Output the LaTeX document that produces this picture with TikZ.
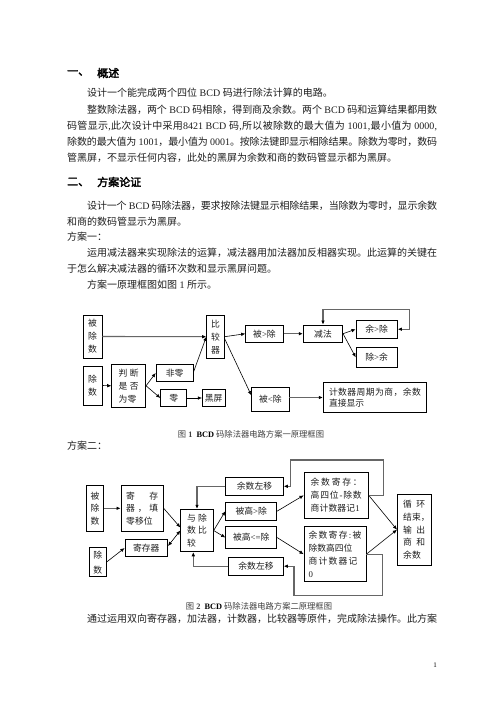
\documentclass[tikz,border=0pt]{standalone}
\usepackage{fontspec}
\setmainfont{Liberation Serif}
\newfontfamily\cjk{Noto Sans CJK SC}
\newfontfamily\cjkh[AutoFakeBold=2.5]{Noto Sans CJK SC}
\newfontfamily\lat{Liberation Serif}
\usetikzlibrary{arrows.meta}
\ExplSyntaxOn
\NewDocumentCommand\jline{m m}
  {\leavevmode\hbox~to~#1~{\tl_map_inline:nn {#2} {{##1}\hskip~0pt~plus~1fil~minus~1pt\relax}\unskip}}
\ExplSyntaxOff
\tikzset{
  txt/.style={inner sep=0pt, anchor=west, text=black!88, font=\cjk\fontsize{10}{12}\selectfont},
  hd/.style={inner sep=0pt, anchor=west, font=\cjkh\bfseries\fontsize{11}{13}\selectfont},
  figcap/.style={inner sep=0pt, text=black!75, font=\cjk\fontsize{8.3}{10}\selectfont},
  bx/.style={draw, line width=0.7pt, inner sep=0pt, text=black!88, font=\cjk\fontsize{8.8}{13}\selectfont, align=center},
  tip/.style={-{Latex[length=4.2pt,width=3.6pt,color=black]}},
  ar/.style={tip, line width=0.6pt},
  arg/.style={tip, draw=black!60, line width=1.1pt},
}
\begin{document}
\begin{tikzpicture}[x=1pt,y=-1pt]
\fill[white] (0,0) rectangle (496,702);
\useasboundingbox (0,0) rectangle (496,702);
% ---------------- body text ----------------
\node[hd] (h1a) at (67,73) {一、};
\node[hd] (h1b) at (97,73) {概述};
\node[txt] (t3) at (87,93) {设计一个能完成两个四位{\lat\ BCD\ }码进行除法计算的电路。};
\node[txt] (t4) at (87,110) {\jline{350pt}{整数除法器，两个{\lat\ BCD\ }码相除，得到商及余数。两个{\lat\ BCD\ }码和运算结果都用数}};
\node[txt] (t5) at (67,126) {\jline{370pt}{码管显示{\lat ,}此次设计中采用{\lat 8421\ BCD\ }码{\lat ,}所以被除数的最大值为{\lat\ 1001}{\lat ,}最小值为{\lat\ 0000}{\lat ,}}};
\node[txt] (t6) at (67,142) {\jline{370pt}{除数的最大值为{\lat\ 1001}，最小值为{\lat\ 0001}。按除法键即显示相除结果。除数为零时，数码}};
\node[txt] (t7) at (67,158) {管黑屏，不显示任何内容，此处的黑屏为余数和商的数码管显示都为黑屏。};
\node[hd] (h2a) at (67,182) {二、};
\node[hd] (h2b) at (97,182) {方案论证};
\node[txt] (t10) at (87,206) {\jline{350pt}{设计一个{\lat\ BCD\ }码除法器，要求按除法键显示相除结果，当除数为零时，显示余数}};
\node[txt] (t11) at (67,222) {和商的数码管显示为黑屏。};
\node[txt] (t12) at (67,237) {方案一：};
\node[txt] (t13) at (87,253) {\jline{350pt}{运用减法器来实现除法的运算，减法器用加法器加反相器实现。此运算的关键在}};
\node[txt] (t14) at (67,269) {于怎么解决减法器的循环次数和显示黑屏问题。};
\node[txt] (t15) at (87,285) {方案一原理框图如图{\lat\ 1\ }所示。};
\node[figcap] (c1) at (251,434) {图{\lat\bfseries\ 1\ \ \textcolor{black}{BCD}\ }码除法器电路方案一原理框图};
\node[txt] (t17) at (67,446) {方案二：};
\node[figcap] (c2) at (259,606) {图{\lat\bfseries\ 2\ \ \textcolor{black}{BCD}\ }码除法器电路方案二原理框图};
\node[txt] (t19) at (87,619) {\jline{350pt}{通过运用双向寄存器，加法器，计数器，比较器等原件，完成除法操作。此方案}};
\node[inner sep=0pt, font=\lat\fontsize{7}{8}\selectfont] (pg) at (435,665) {1};
% ---------------- figure 1 ----------------
\node[bx, minimum width=19, minimum height=43] (A) at (92.5,336.5) {被\\除\\数};
\node[bx, minimum width=19, minimum height=39] (B) at (92.5,385.5) {除\\数};
\node[bx, minimum width=34, minimum height=43, align=left, text width=20] (C) at (128.7,385.8) {\jline{20pt}{判断}\\\jline{20pt}{是否}\\为零};
\node[bx, minimum width=37.3, minimum height=17.4] (D) at (174.7,373) {非零};
\node[bx, minimum width=26, minimum height=17.4] (E) at (173.7,398) {零};
\node[bx, minimum width=22.7, minimum height=17.4] (F) at (213.7,398) {黑屏};
\node[bx, minimum width=17.6, minimum height=43.3] (G) at (215.5,336.7) {比\\较\\器};
\node[bx, minimum width=37.6, minimum height=17.3] (H) at (264.5,333.7) {被{\lat >}除};
\node[bx, minimum width=39.4, minimum height=17.3] (I) at (323,333.7) {减法};
\node[bx, minimum width=41.3, minimum height=18.3] (J) at (376.7,329.2) {余{\lat >}除};
\node[bx, minimum width=41.3, minimum height=20] (K) at (376.7,357.3) {除{\lat >}余};
\node[bx, minimum width=37.3, minimum height=23.3] (L) at (270.3,399.3) {被{\lat <}除};
\node[bx, minimum width=103.4, minimum height=29.6, align=left, text width=92, font=\cjk\fontsize{8.8}{11.5}\selectfont] (M) at (375,397.5) {\jline{92pt}{计数器周期为商，余数}\\直接显示};
\draw[arg] (A.east) -- (G.west);
\draw[ar] (B.east) -- (C.west);
\draw[ar] (C.east) -- (D.west);
\draw[ar] (C.east) -- (E.west);
\draw[ar] ([yshift=1.5pt]D.east) -- (G.west);
\draw[ar] (E.east) -- (F.west);
\draw[ar] (G.east) -- (H.west);
\draw[ar] ([yshift=-2pt]G.east) -- ([yshift=4pt]L.west);
\draw[arg] (H.east) -- (I.west);
\draw[ar] (I.east) -- (J.west);
\draw[ar] (I.east) -- (K.west);
\draw[arg] (L.east |- M.west) -- (M.west);
\draw[arg, {Latex[length=4.2pt,width=3.6pt,color=black]}-{Latex[length=4.2pt,width=3.6pt,color=black]}] (J.east) -- ++(12,0) |- ([yshift=15pt]I.north) -- (I.north);
% ---------------- figure 2 ----------------
\node[bx, minimum width=16.6, minimum height=46.7, font=\cjk\fontsize{8.8}{12.5}\selectfont] (P) at (95,508.3) {被\\除\\数};
\node[bx, minimum width=42.3, minimum height=46.7, align=left, text width=32, font=\cjk\fontsize{8.8}{12.5}\selectfont] (Q) at (142.2,508.3) {\jline{32pt}{寄存}\\\jline{32pt}{器，填}\\零移位};
\node[bx, minimum width=16.7, minimum height=29, font=\cjk\fontsize{8.8}{15}\selectfont] (R) at (97.7,562.2) {除\\数};
\node[bx, minimum width=42.7, minimum height=17.4] (S) at (146.3,548) {寄存器};
\node[bx, minimum width=32.6, minimum height=42.4, align=left, text width=20, font=\cjk\fontsize{8.8}{12.5}\selectfont] (T) at (197,530.5) {\jline{20pt}{与除}\\\jline{20pt}{数比}\\较};
\node[bx, minimum width=57.6, minimum height=17.3] (U) at (254.5,486.3) {余数左移};
\node[bx, minimum width=51, minimum height=17.7] (V) at (251.2,511.2) {被高{\lat >}除};
\node[bx, minimum width=51, minimum height=21.6] (W) at (251.2,537.5) {被高{\lat <=}除};
\node[bx, minimum width=54.6, minimum height=17.7] (X) at (256,566.2) {余数左移};
\node[bx, minimum width=64.3, minimum height=46, align=left, text width=51] (Y) at (336.2,495.3) {\jline{51pt}{余数寄存：}\\\jline{51pt}{高四位{\lat -}除数}\\\jline{49pt}{商计数器记{\lat 1}}};
\node[bx, minimum width=62, minimum height=55, align=left, text width=53, font=\cjk\fontsize{8.8}{12.8}\selectfont] (Z) at (335,554.2) {\jline{53pt}{余数寄存{\lat :}被}\\除数高四位\\\jline{49pt}{商计数器记}\\{\lat 0}};
\node[bx, minimum width=33.7, minimum height=70.7, align=left, text width=22, font=\cjk\fontsize{8.8}{12.9}\selectfont] (O) at (414.2,529.7) {\jline{22pt}{循环}\\结束，\\\jline{22pt}{输出}\\\jline{22pt}{商和}\\余数};
\coordinate (tl) at (290.7,460);
\coordinate (bl) at (294,595.7);
\draw[arg] (P.east) -- (Q.west);
\draw[ar] (Q.east) -- ([yshift=3pt]T.west);
\draw[ar] (R.east) -- (S.west);
\draw[ar, {Latex[length=4.2pt,width=3.6pt]}-{Latex[length=4.2pt,width=3.6pt]}] ([yshift=2pt]S.east) -- (T.west);
\draw[ar] (T.east) -- (V.west);
\draw[ar] (T.east) -- (W.west);
\draw[ar] (V.east) -- (Y.west);
\draw[ar] (W.east) -- (Z.west);
\draw[ar] (Y.east) -- (O.west);
\draw[ar] (Z.east) -- (O.west);
\draw[arg] (Y.east) -- ++(15,0) |- (tl) |- (U.east);
\draw[arg] (U.west) -| (T.north);
\draw[arg] (Z.east) -- ++(16,0) |- (bl) |- (X.east);
\draw[arg] (X.west) -| ([xshift=-3.7pt]T.south);
\end{tikzpicture}
\end{document}
